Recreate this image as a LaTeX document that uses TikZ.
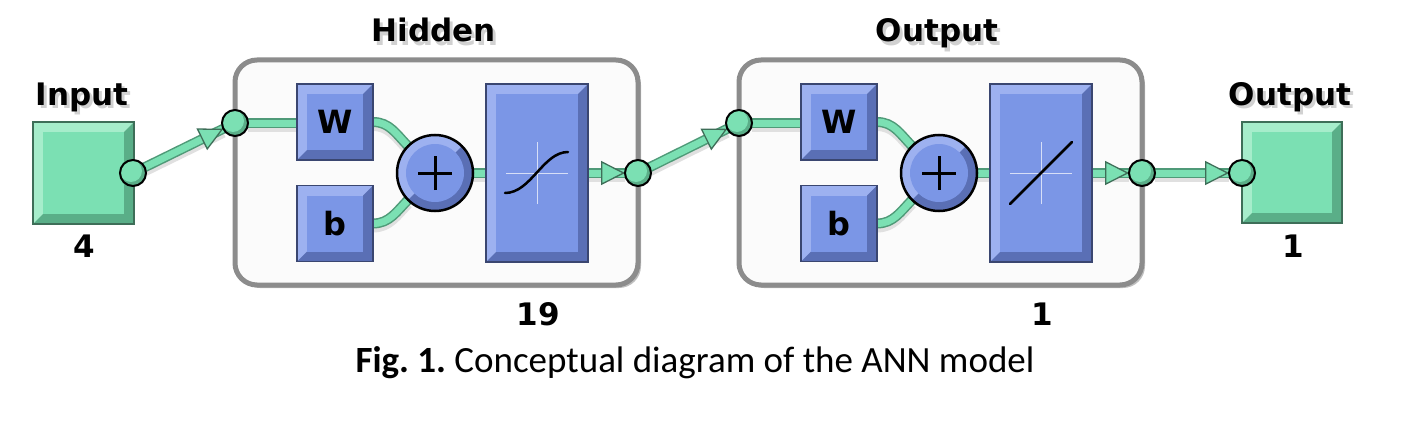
\documentclass[tikz,border=0pt]{standalone}
\usepackage{fontspec}
\setmainfont{DejaVu Sans}
\newfontfamily\capfont{Carlito}
\usetikzlibrary{arrows.meta,shadows}
\definecolor{gfill}{HTML}{7BE0B3}
\definecolor{glight}{HTML}{A6EDCB}
\definecolor{gdark}{HTML}{5AAE88}
\definecolor{gedge}{HTML}{4F9A78}
\definecolor{gline}{HTML}{3E6E58}
\definecolor{bfill}{HTML}{7B96E6}
\definecolor{blight}{HTML}{9DB1F0}
\definecolor{bdark}{HTML}{5A6FB5}
\definecolor{bline}{HTML}{3A4670}
\definecolor{pgray}{HTML}{8C8C8C}
\pgfdeclarelayer{panel}
\pgfdeclarelayer{lines}
\pgfsetlayers{panel,lines,main}
\newcommand\shtext[1]{\rlap{\hspace{3pt}\raisebox{-3pt}{\color{black!18}#1}}#1}
\tikzset{
  every node/.style={inner sep=0pt, outer sep=0pt},
  bev/.style n args={3}{path picture={
    \fill[#1] (path picture bounding box.north west) rectangle (path picture bounding box.south east);
    \fill[#2] (path picture bounding box.south west) -- (path picture bounding box.south east)
      -- (path picture bounding box.north east) -- ([shift={(-10pt,-10pt)}]path picture bounding box.north east)
      -- ([shift={(-10pt,10pt)}]path picture bounding box.south east)
      -- ([shift={(10pt,10pt)}]path picture bounding box.south west) -- cycle;
    \fill[#3] ([shift={(10pt,-10pt)}]path picture bounding box.north west) rectangle ([shift={(-10pt,10pt)}]path picture bounding box.south east);
  }},
  gblock/.style={rectangle, bev={glight}{gdark}{gfill}, draw=gline, line width=1.2pt},
  bblock/.style={rectangle, bev={blight}{bdark}{bfill}, draw=bline, line width=1.2pt,
    font=\fontsize{32}{32}\selectfont\bfseries},
  port/.style={circle, minimum size=26pt, draw=black, line width=2pt, path picture={
    \fill[gdark] (path picture bounding box.center) circle (14pt);
    \fill[gfill] ([shift={(-2pt,2pt)}]path picture bounding box.center) circle (11pt);}},
  sumnode/.style={circle, minimum size=76pt, draw=black, line width=2.5pt, path picture={
    \fill[blight] (path picture bounding box.center) circle (40pt);
    \fill[bdark] ([shift={(-42pt,-42pt)}]path picture bounding box.center) -- ([shift={(42pt,42pt)}]path picture bounding box.center) -- ([shift={(42pt,-42pt)}]path picture bounding box.center) -- cycle;
    \fill[bfill] (path picture bounding box.center) circle (29pt);
    \draw[black, line width=3pt] ([xshift=-17pt]path picture bounding box.center) -- ([xshift=17pt]path picture bounding box.center);
    \draw[black, line width=3pt] ([yshift=-17pt]path picture bounding box.center) -- ([yshift=17pt]path picture bounding box.center);}},
  panel/.style={rectangle, rounded corners=22pt, draw=pgray, line width=5pt, fill=black!1.5,
    drop shadow={shadow xshift=3pt, shadow yshift=-3pt, opacity=0.25, fill=black}},
  conn/.style={line width=7pt, draw=gfill,
    preaction={draw=black!12, line width=10pt, transform canvas={yshift=-4pt}},
    preaction={draw=gedge, line width=10pt}},
  arr/.style={draw=gfill, line width=1pt,
    -{Triangle[length=24pt, width=24pt, fill=gfill, color=gline, line width=1.3pt]}},
  lbl/.style={font=\fontsize{31}{31}\selectfont\bfseries, anchor=base},
  cross/.style={white, line width=1pt, opacity=0.7},
  tfline/.style={black, line width=2.5pt, line cap=round}
}
\begin{document}
\frenchspacing
\begin{tikzpicture}[x=1pt, y=-1pt]
\begin{pgfonlayer}{panel}
  \fill[white] (0,0) rectangle (1408,428);
  \node[panel, minimum width=403pt, minimum height=225pt] (hid) at (436.5,172.5) {};
  \node[panel, minimum width=403pt, minimum height=225pt] (outl) at (940.5,172.5) {};
\end{pgfonlayer}
\useasboundingbox (0,0) rectangle (1408,428);

% labels
\node[lbl] (linput) at (82,105) {\shtext{Input}};
\node[lbl] (lhidden) at (434,42) {\shtext{Hidden}};
\node[lbl] (loutl) at (937,42) {\shtext{Output}};
\node[lbl] (loutput) at (1290,105) {\shtext{Output}};
\node[lbl] (n4) at (84,257) {4};
\node[lbl] (n19) at (538,325) {19};
\node[lbl] (n1a) at (1042,325) {1};
\node[lbl] (n1b) at (1293,257) {1};

% blocks
\node[gblock, minimum width=101pt, minimum height=102pt] (inbox) at (83.5,173) {};
\node[gblock, minimum width=100pt, minimum height=101pt] (outbox) at (1292,172.5) {};

\node[bblock, minimum size=76pt] (W1) at (335,122) {W};
\node[bblock, minimum size=76pt] (b1) at (335,223.5) {b};
\node[sumnode] (s1) at (435,173) {};
\node[bblock, minimum width=102pt, minimum height=178pt] (T1) at (537,173) {};

\node[bblock, minimum size=76pt] (W2) at (839,122) {W};
\node[bblock, minimum size=76pt] (b2) at (839,223.5) {b};
\node[sumnode] (s2) at (939,173) {};
\node[bblock, minimum width=102pt, minimum height=178pt] (T2) at (1041,173) {};

% transfer function glyphs
\draw[cross] ([xshift=-31pt]T1.center) -- ([xshift=31pt]T1.center);
\draw[cross] ([yshift=-31pt]T1.center) -- ([yshift=31pt]T1.center);
\draw[tfline] ([shift={(-32pt,-20pt)}]T1.center) .. controls ([shift={(-6pt,-20pt)}]T1.center) and ([shift={(6pt,21pt)}]T1.center) .. ([shift={(31pt,21pt)}]T1.center);
\draw[cross] ([xshift=-31pt]T2.center) -- ([xshift=31pt]T2.center);
\draw[cross] ([yshift=-31pt]T2.center) -- ([yshift=31pt]T2.center);
\draw[tfline] ([shift={(-31pt,-31pt)}]T2.center) -- ([shift={(31pt,31pt)}]T2.center);

% ports
\node[port] (inp) at (133,173) {};
\node[port] (h1in) at (235,123) {};
\node[port] (h1out) at (638,173) {};
\node[port] (h2in) at (739,123) {};
\node[port] (h2out) at (1142,173) {};
\node[port] (outp) at (1242,173) {};

% caption
\node[font=\capfont\fontsize{37}{37}\selectfont, anchor=base] (cap) at (695,372) {\textbf{Fig. 1.} Conceptual diagram of the ANN model};

\begin{pgfonlayer}{lines}
  \draw[conn] (inp) -- (h1in);
  \draw[conn] (h1in) -- (h1in -| W1.west);
  \draw[conn] (W1.east) to[out=0, in=135] (s1);
  \draw[conn] (b1.east) to[out=0, in=-135] (s1);
  \draw[conn] (s1) -- (T1);
  \draw[conn] (T1.east) -- (h1out);
  \draw[conn] (h1out) -- (h2in);
  \draw[conn] (h2in) -- (h2in -| W2.west);
  \draw[conn] (W2.east) to[out=0, in=135] (s2);
  \draw[conn] (b2.east) to[out=0, in=-135] (s2);
  \draw[conn] (s2) -- (T2);
  \draw[conn] (T2.east) -- (h2out);
  \draw[conn] (h2out) -- (outp);
  \draw[arr] (inp) -- (h1in);
  \draw[arr] (T1.east) -- (h1out);
  \draw[arr] (h1out) -- (h2in);
  \draw[arr] (T2.east) -- (h2out);
  \draw[arr] (h2out) -- (outp);
\end{pgfonlayer}
\end{tikzpicture}
\end{document}
